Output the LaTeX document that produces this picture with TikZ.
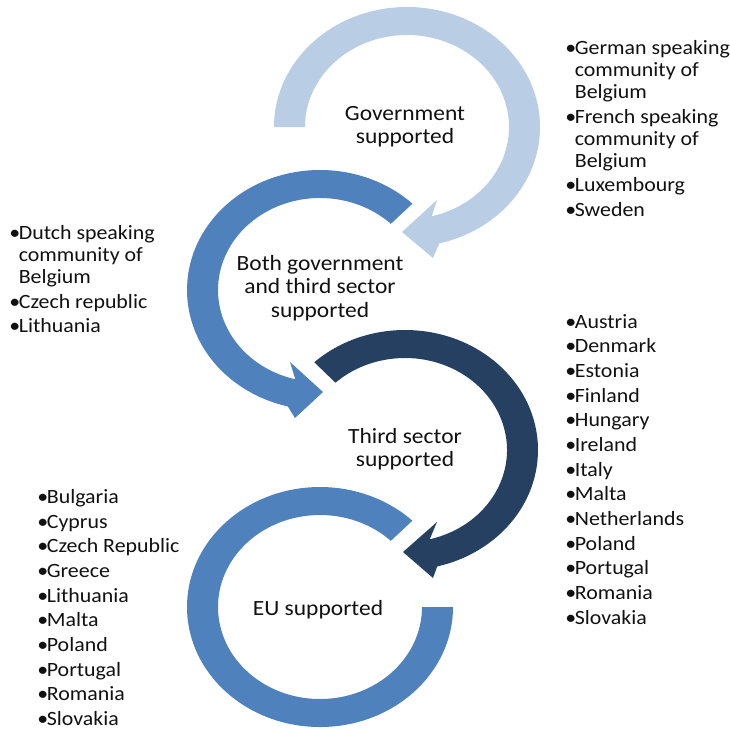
\documentclass[tikz,border=0pt]{standalone}
\usepackage{fontspec}
\setmainfont{Carlito}[FakeStretch=1.08]
\definecolor{lightarc}{HTML}{B9CDE5}
\definecolor{midarc}{HTML}{4F81BD}
\definecolor{darkarc}{HTML}{254061}
\definecolor{txt}{HTML}{111111}
\newcommand{\blt}{•\kern-1pt}
\newcommand{\hng}{\hphantom{•\kern-1pt}}
\begin{document}
\begin{tikzpicture}[x=0.75pt,y=-0.75pt,
  lbl/.style={font=\fontsize{16.3}{17.4}\selectfont, align=center, text=txt, inner sep=0pt},
  lst/.style={font=\fontsize{15.2}{16.5}\selectfont, align=left, text=txt, inner sep=0pt, anchor=north west}]
\useasboundingbox (0,0) rectangle (730,729);

% Government supported (light, clockwise)
\begin{scope}[shift={(407,127)}]
\fill[lightarc] (-180:133 and 120) arc[start angle=-180,end angle=76,x radius=133,y radius=120]
  -- (26,131) -- (-5,105) -- (30,73) -- (76:102 and 92)
  arc[start angle=76,end angle=-180,x radius=102,y radius=92] -- cycle;
\end{scope}

% Both government and third sector (medium, counter-clockwise)
\begin{scope}[shift={(320,290)}]
\fill[midarc] (-46:133 and 120) arc[start angle=-46,end angle=-256,x radius=133,y radius=120]
  -- (-25,128) -- (3,102) -- (-30,72) -- (-256:102 and 92)
  arc[start angle=-256,end angle=-46,x radius=102,y radius=92] -- cycle;
\end{scope}

% Third sector (dark, clockwise)
\begin{scope}[shift={(405,450)}]
\fill[darkarc] (-133:133 and 120) arc[start angle=-133,end angle=76,x radius=133,y radius=120]
  -- (28,128) -- (-2,102) -- (32,72) -- (76:102 and 92)
  arc[start angle=76,end angle=-133,x radius=102,y radius=92] -- cycle;
\end{scope}

% EU supported (ring)
\begin{scope}[shift={(320,607)}]
\fill[midarc] (0:133 and 120) arc[start angle=0,end angle=314,x radius=133,y radius=120]
  -- (314:102 and 92)
  arc[start angle=314,end angle=0,x radius=102,y radius=92] -- cycle;
\end{scope}

\node[lbl] (gov) at (405,127) {Government\\supported};
\node[lbl] (both) at (320,288) {Both government\\and third sector\\supported};
\node[lbl] (third) at (405,449) {Third sector\\supported};
\node[lbl] (eu) at (318,610) {EU supported};

\node[lst] (govlist) at (565,40) {\blt German speaking\\\hng community of\\\hng Belgium\\[2pt]\blt French speaking\\\hng community of\\\hng Belgium\\[2pt]\blt Luxembourg\\[2pt]\blt Sweden};
\node[lst] (bothlist) at (9,225) {\blt Dutch speaking\\\hng community of\\\hng Belgium\\[2pt]\blt Czech republic\\[2pt]\blt Lithuania};
\node[lst] (thirdlist) at (565,314) {\blt Austria\\[2pt]\blt Denmark\\[2pt]\blt Estonia\\[2pt]\blt Finland\\[2pt]\blt Hungary\\[2pt]\blt Ireland\\[2pt]\blt Italy\\[2pt]\blt Malta\\[2pt]\blt Netherlands\\[2pt]\blt Poland\\[2pt]\blt Portugal\\[2pt]\blt Romania\\[2pt]\blt Slovakia};
\node[lst] (eulist) at (37,489) {\blt Bulgaria\\[2pt]\blt Cyprus\\[2pt]\blt Czech Republic\\[2pt]\blt Greece\\[2pt]\blt Lithuania\\[2pt]\blt Malta\\[2pt]\blt Poland\\[2pt]\blt Portugal\\[2pt]\blt Romania\\[2pt]\blt Slovakia};
\end{tikzpicture}
\end{document}
